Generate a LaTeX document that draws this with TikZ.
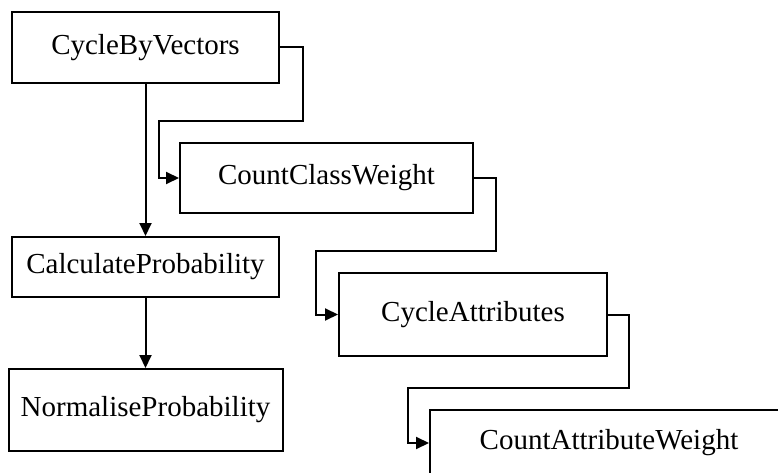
\documentclass[tikz,border=0pt]{standalone}
\usepackage{fontspec}
\setmainfont{Liberation Serif}
\usetikzlibrary{arrows.meta}
\begin{document}
\begin{tikzpicture}[x=1pt,y=-1pt,
  box/.style={draw,line width=2pt,inner sep=0pt,font=\fontsize{29}{34}\selectfont},
  arr/.style={line width=2pt,-{Triangle[length=13pt,width=12pt]}}]
  \useasboundingbox (0,0) rectangle (778,473);
  \clip (0,0) rectangle (778,473);
  \node[box,minimum width=267pt,minimum height=71pt] (b1) at (145.5,47.5) {CycleByVectors};
  \node[box,minimum width=293pt,minimum height=70pt] (b2) at (326.5,178) {CountClassWeight};
  \node[box,minimum width=267pt,minimum height=60pt] (cp) at (145.5,267) {CalculateProbability};
  \node[box,minimum width=274pt,minimum height=82pt] (np) at (145.5,410) {NormaliseProbability};
  \node[box,minimum width=268pt,minimum height=83pt] (b3) at (473,314.5) {CycleAttributes};
  \node[box,minimum width=358pt,minimum height=66pt] (b4) at (609,443) {CountAttributeWeight};
  % bends of the stepped connectors
  \coordinate (k1) at (159,121);
  \coordinate (k2) at (316,251);
  \coordinate (k3) at (408,388);
  \draw[arr] (b1.south) -- (cp.north);
  \draw[arr] (cp.south) -- (np.north);
  \draw[arr] (b1.east) -- ++(23,0) |- (k1) |- (b2.west);
  \draw[arr] (b2.east) -- ++(22,0) |- (k2) |- (b3.west);
  \draw[arr] (b3.east) -- ++(21,0) |- (k3) |- (b4.west);
\end{tikzpicture}
\end{document}
